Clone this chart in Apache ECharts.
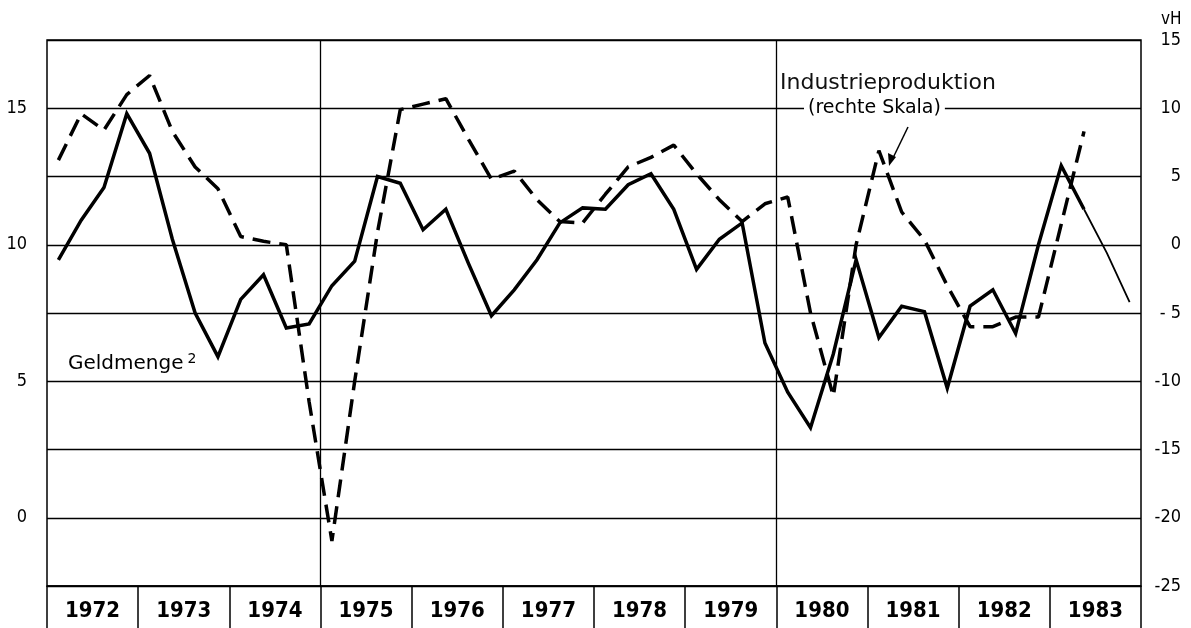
<!DOCTYPE html>
<html>
<head>
<meta charset="utf-8">
<script src="https://cdn.jsdelivr.net/npm/echarts@6/dist/echarts.min.js"></script>
<style>
  html, body { margin: 0; padding: 0; background: #fff; }
  #chart { width: 1191px; height: 628px; }
</style>
</head>
<body>
<div id="chart"></div>
<script>
// ---------- DATA ----------
// quarterly values 1972 Q1 .. 1983 Q4
var years = ['1972', '1973', '1974', '1975', '1976', '1977', '1978', '1979', '1980', '1981', '1982', '1983'];

// Geldmenge (left scale), drawn thick up to 1983 Q2, then thin
var geldmenge = [
	9.45, 10.9, 12.1, 14.8,
	13.35, 10.2, 7.5, 5.9,
	8.0, 8.9, 6.95, 7.1,
	8.5, 9.4, 12.5, 12.25,
	10.55, 11.3, 9.3, 7.4,
	8.35, 9.45, 10.8, 11.35,
	11.3, 12.2, 12.6, 11.3,
	9.1, 10.2, 10.8, 6.4,
	4.6, 3.3, 6.0, 9.45,
	6.6, 7.75, 7.55, 4.75,
	7.75, 8.35, 6.75, 10.0,
	12.9, 11.3
];
var geldmengeTail = [11.3, 9.7, 7.9]; // 1983 Q2 .. Q4, thin line

// Industrieproduktion (right scale)
var industrie = [
	6.2, 9.6, 8.4, 11.0,
	12.4, 8.3, 5.7, 4.1,
	0.6, 0.25, 0.0, -11.5,
	-21.7, -10.0, 0.9, 9.9,
	10.3, 10.7, 7.7, 4.8,
	5.4, 3.3, 1.7, 1.6,
	3.7, 5.7, 6.4, 7.3,
	5.2, 3.3, 1.7, 3.0,
	3.5, -5.0, -11.1, 0.0,
	6.9, 2.4, 0.35, -3.0,
	-6.0, -6.0, -5.3, -5.3,
	1.5, 8.3
];

var leftTicks = [0, 5, 10, 15];

// ---------- HELPERS ----------
function toPoints(values, startQuarter) {
	return values.map(function (v, i) { return [startQuarter + i + 0.5, v]; });
}

var numFont = "'DejaVu Sans Condensed', 'DejaVu Sans', sans-serif";

// ---------- CHART ----------
var chart = echarts.init(document.getElementById('chart'), null, { renderer: 'canvas' });

var option = {
	animation: false,
	backgroundColor: '#fff',
	grid: {
		left: 47,
		right: 50,
		top: 40,
		bottom: 42,
		show: true,
		borderColor: '#000',
		borderWidth: 1.5,
		backgroundColor: 'transparent'
	},
	xAxis: [
		{
			type: 'value',
			min: 0,
			max: 48,
			interval: 4,
			axisLine: { show: false, onZero: false },
			axisTick: { show: false },
			axisLabel: { show: false },
			splitLine: { show: false }
		},
		{
			type: 'category',
			data: years,
			position: 'bottom',
			boundaryGap: true,
			axisLine: { show: true, onZero: false, lineStyle: { color: '#000', width: 1.5 } },
			axisTick: { show: true, interval: 0, length: 42, lineStyle: { color: '#000', width: 1.5 } },
			axisLabel: {
				interval: 0,
				margin: 14,
				color: '#000',
				fontFamily: numFont,
				fontWeight: 'bold',
				fontSize: 22
			},
			splitLine: { show: false }
		}
	],
	yAxis: [
		{
			type: 'value',
			position: 'left',
			min: -2.5,
			max: 17.5,
			interval: 2.5,
			axisLine: { show: false },
			axisTick: { show: false },
			axisLabel: {
				margin: 20,
				color: '#000',
				fontFamily: numFont,
				fontSize: 18,
				formatter: function (v) {
					return leftTicks.indexOf(v) >= 0 ? String(v) : '';
				}
			},
			splitLine: { show: true, lineStyle: { color: '#000', width: 1.3 } }
		},
		{
			type: 'value',
			position: 'right',
			min: -25,
			max: 15,
			interval: 5,
			axisLine: { show: false },
			axisTick: { show: false },
			axisLabel: {
				margin: 40,
				align: 'right',
				color: '#000',
				fontFamily: numFont,
				fontSize: 18,
				formatter: function (v) {
					if (v < 0) {
						return Math.abs(v) < 10 ? '- ' + Math.abs(v) : '-' + Math.abs(v);
					}
					return String(v);
				}
			},
			splitLine: { show: false }
		}
	],
	series: [
		{
			name: 'Geldmenge',
			type: 'line',
			xAxisIndex: 0,
			yAxisIndex: 0,
			symbol: 'none',
			z: 5,
			lineStyle: { color: '#000', width: 3.5, join: 'miter' },
			data: toPoints(geldmenge, 0),
			markLine: {
				silent: true,
				symbol: 'none',
				label: { show: false },
				lineStyle: { color: '#000', width: 1.3, type: 'solid' },
				data: [{ xAxis: 12 }, { xAxis: 32 }]
			}
		},
		{
			name: 'Geldmenge (Ende)',
			type: 'line',
			xAxisIndex: 0,
			yAxisIndex: 0,
			symbol: 'none',
			z: 5,
			lineStyle: { color: '#000', width: 1.8 },
			data: toPoints(geldmengeTail, 45)
		},
		{
			name: 'Industrieproduktion',
			type: 'line',
			xAxisIndex: 0,
			yAxisIndex: 1,
			symbol: 'none',
			z: 6,
			lineStyle: { color: '#000', width: 3.5, type: [18, 9], cap: 'butt' },
			data: toPoints(industrie, 0)
		}
	],
	graphic: [
		{
			type: 'text',
			left: 1161,
			top: 11,
			style: { text: 'vH', fill: '#000', font: '17px ' + numFont }
		},
		{
			type: 'text',
			left: 780,
			top: 72,
			z: 10,
			style: {
				text: 'Industrieproduktion',
				fill: '#111',
				font: '22px "DejaVu Sans", sans-serif'
			}
		},
		{
			type: 'text',
			left: 804,
			top: 99,
			z: 10,
			style: {
				text: '(rechte Skala)',
				fill: '#000',
				font: '19px "DejaVu Sans", sans-serif',
				backgroundColor: '#fff',
				padding: [0, 4, 0, 4]
			}
		},
		{
			type: 'line',
			z: 10,
			shape: { x1: 908, y1: 127, x2: 892, y2: 160 },
			style: { stroke: '#000', lineWidth: 1.5 }
		},
		{
			type: 'polygon',
			z: 10,
			shape: { points: [[889, 166], [888, 153], [896, 157]] },
			style: { fill: '#000' }
		},
		{
			type: 'text',
			left: 68,
			top: 352,
			z: 10,
			style: {
				text: '{a|Geldmenge}{b|2}',
				rich: {
					a: { fill: '#000', font: '20px "DejaVu Sans", sans-serif', verticalAlign: 'bottom' },
					b: { fill: '#000', font: '14px "DejaVu Sans", sans-serif', verticalAlign: 'top', padding: [0, 0, 8, 4] }
				}
			}
		}
	]
};

chart.setOption(option);
</script>
</body>
</html>
